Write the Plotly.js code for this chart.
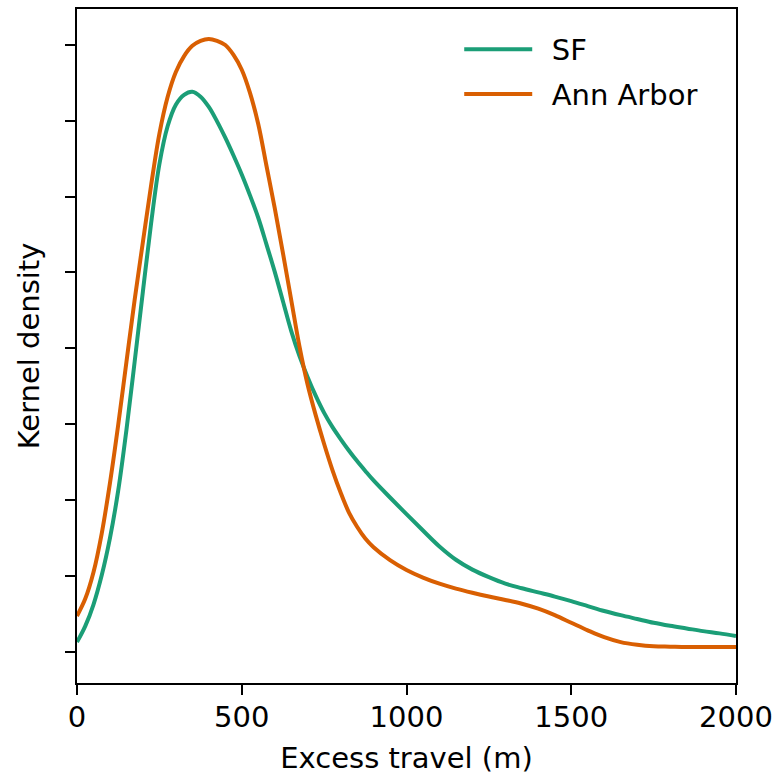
<!DOCTYPE html>
<html>
<head>
<meta charset="utf-8">
<script src="https://cdn.plot.ly/plotly-3.0.1.min.js"></script>
<style>body{margin:0;padding:0;background:#fff;} #chart{width:777px;height:775px;}</style>
</head>
<body>
<div id="chart"></div>
<script>
// Excess travel (m)
const sfX = [0, 25, 50, 75, 100, 125, 150, 175, 200, 225, 250, 275, 300, 325, 350, 375, 400, 425, 450, 475, 500, 525, 550, 575, 600, 625, 650, 675, 700, 725, 750, 775, 800, 825, 850, 875, 900, 950, 1000, 1050, 1100, 1150, 1200, 1250, 1300, 1350, 1400, 1450, 1500, 1550, 1600, 1650, 1700, 1750, 1800, 1850, 1900, 1950, 2000];
// Kernel density (x 1e-4), SF
const sfY = [0.26, 0.68, 1.25, 2.02, 3.00, 4.25, 5.85, 7.65, 9.50, 11.30, 12.85, 13.85, 14.42, 14.68, 14.76, 14.63, 14.36, 13.98, 13.55, 13.08, 12.58, 12.03, 11.44, 10.74, 10.02, 9.24, 8.46, 7.80, 7.24, 6.74, 6.30, 5.93, 5.61, 5.31, 5.03, 4.77, 4.52, 4.07, 3.63, 3.20, 2.78, 2.43, 2.17, 1.97, 1.80, 1.68, 1.57, 1.46, 1.34, 1.21, 1.08, 0.97, 0.87, 0.77, 0.69, 0.62, 0.55, 0.49, 0.42];

const aaX = [0, 25, 50, 75, 100, 125, 150, 175, 200, 225, 250, 275, 300, 325, 350, 375, 400, 425, 450, 475, 500, 525, 550, 575, 600, 625, 650, 675, 700, 725, 750, 775, 800, 825, 850, 875, 900, 950, 1000, 1050, 1100, 1150, 1200, 1250, 1300, 1350, 1400, 1450, 1500, 1550, 1600, 1650, 1700, 1750, 1800, 1850, 1900, 1950, 2000];
// Kernel density (x 1e-4), Ann Arbor
const aaY = [0.95, 1.40, 2.10, 3.12, 4.45, 5.98, 7.64, 9.28, 10.80, 12.30, 13.65, 14.62, 15.28, 15.70, 15.97, 16.10, 16.15, 16.10, 15.99, 15.73, 15.34, 14.73, 13.91, 12.81, 11.70, 10.51, 9.28, 8.06, 7.04, 6.22, 5.48, 4.80, 4.20, 3.68, 3.30, 2.99, 2.76, 2.42, 2.16, 1.96, 1.80, 1.67, 1.56, 1.46, 1.37, 1.27, 1.14, 0.97, 0.77, 0.57, 0.39, 0.26, 0.19, 0.15, 0.14, 0.13, 0.13, 0.13, 0.13];

const seriesNames = ["\u2002SF", "\u2002Ann Arbor"];
const xTickVals = [0, 500, 1000, 1500, 2000];
const xTickText = ["0", "500", "1000", "1500", "2000"];

const FONT = "DejaVu Sans, Verdana, sans-serif";

const traces = [
  {x: sfX, y: sfY, name: seriesNames[0], type: "scatter", mode: "lines",
   line: {color: "#1b9e77", width: 4, shape: "spline", smoothing: 1}, legendgroup: "a"},
  {x: aaX, y: aaY, name: seriesNames[1], type: "scatter", mode: "lines",
   line: {color: "#d95f02", width: 4, shape: "spline", smoothing: 1}, legendgroup: "b"}
];

const layout = {
  width: 777, height: 775,
  margin: {l: 77, r: 41, t: 9, b: 92, pad: 0},
  paper_bgcolor: "#ffffff", plot_bgcolor: "#ffffff",
  font: {family: FONT, size: 29, color: "#000"},
  showlegend: true,
  legend: {x: 0.58, y: 0.978, xanchor: "left", yanchor: "top",
           bgcolor: "rgba(0,0,0,0)", borderwidth: 0, itemwidth: 68,
           font: {family: FONT, size: 29, color: "#000"},
           traceorder: "grouped", tracegroupgap: 4},
  xaxis: {
    range: [0, 2000], tickvals: xTickVals, ticktext: xTickText,
    showgrid: false, zeroline: false,
    showline: true, linecolor: "#000", linewidth: 2, mirror: true,
    ticks: "outside", ticklen: 10, tickwidth: 2, tickcolor: "#000",
    ticklabelstandoff: -3,
    tickfont: {family: FONT, size: 29, color: "#000"},
    title: {text: "Excess travel (m)", font: {family: FONT, size: 29, color: "#000"}, standoff: 21}
  },
  yaxis: {
    range: [-0.817, 16.94], tick0: 0, dtick: 2,
    showgrid: false, zeroline: false, showticklabels: false,
    showline: true, linecolor: "#000", linewidth: 2, mirror: true,
    ticks: "outside", ticklen: 10, tickwidth: 2, tickcolor: "#000",
    title: {text: "Kernel density", font: {family: FONT, size: 29, color: "#000"}, standoff: 17}
  }
};

Plotly.newPlot("chart", traces, layout, {displayModeBar: false, staticPlot: true});
</script>
</body>
</html>
